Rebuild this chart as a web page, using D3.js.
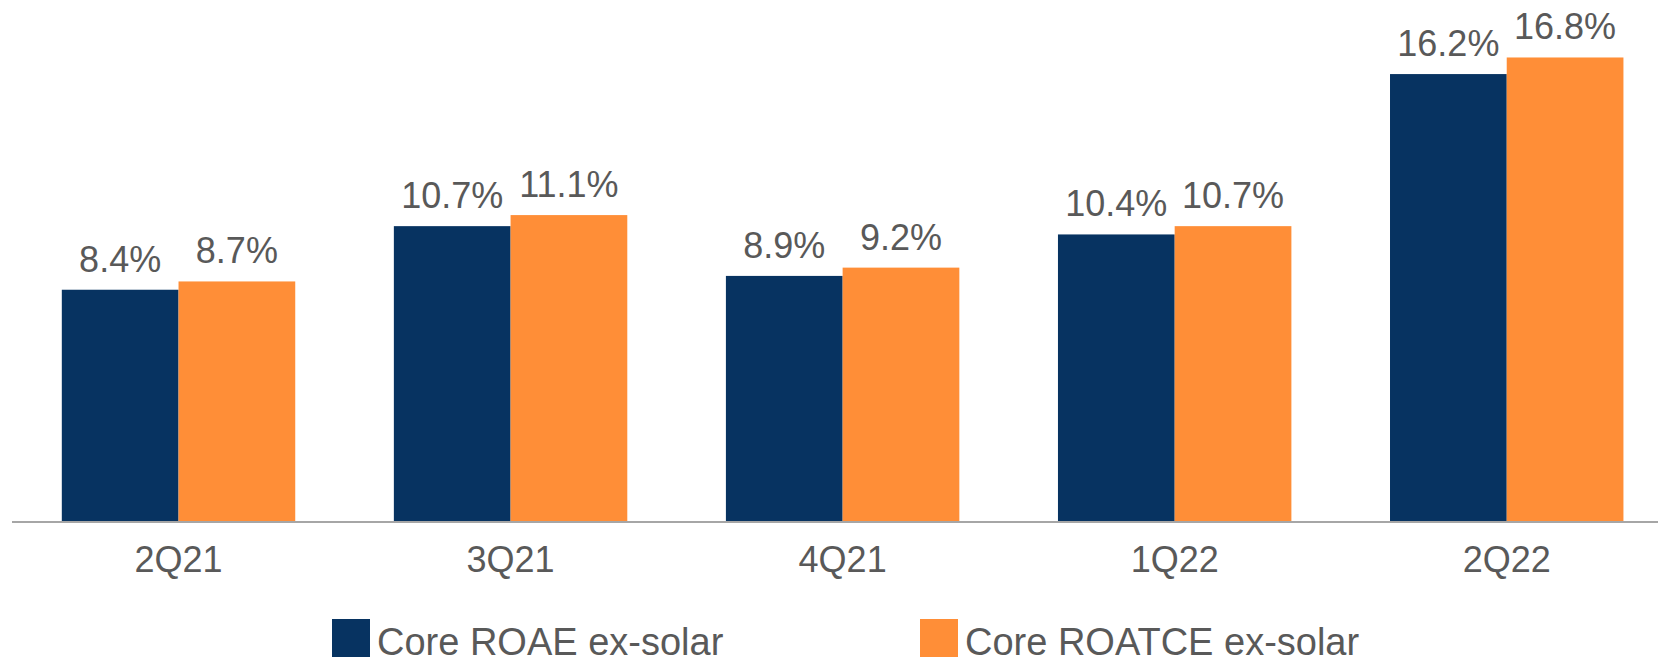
<!DOCTYPE html>
<meta charset="utf-8">
<head>
    <title>Core ROAE / ROATCE</title>
</head>
<style>
body { margin: 0; background: #fff; }
svg { display: block; }
.label, .axis text, .legend text {
  font-family: "Liberation Sans", Arial, sans-serif;
  fill: #595959;
}
</style>
<body>
<script src="https://cdn.jsdelivr.net/npm/d3@7"></script>
<script>

// data
var quarters = ["2Q21", "3Q21", "4Q21", "1Q22", "2Q22"];
var roae     = [8.4, 10.7, 8.9, 10.4, 16.2];
var roatce   = [8.7, 11.1, 9.2, 10.7, 16.8];
var seriesNames = ["Core ROAE ex-solar", "Core ROATCE ex-solar"];
var colors = ["#073361", "#FF8E37"];

var width = 1658, height = 658;
var baseY = 522;

var svg = d3.select("body").append("svg")
    .attr("width", width)
    .attr("height", height);

var x = d3.scaleBand()
    .domain(quarters)
    .range([12, 12 + 5 * 332.25])
    .paddingInner(0.297)
    .paddingOuter(0.15);

var x1 = d3.scaleBand()
    .domain([0, 1])
    .range([0, x.bandwidth()]);

var y = d3.scaleLinear()
    .domain([0, 18])
    .range([baseY, baseY - 27.65 * 18]);

var rows = quarters.map(function(q, i) {
  return {q: q, vals: [roae[i], roatce[i]]};
});

var groups = svg.selectAll(".group")
    .data(rows)
  .enter().append("g")
    .attr("class", "group")
    .attr("transform", function(d) { return "translate(" + x(d.q) + ",0)"; });

groups.selectAll("rect")
    .data(function(d) { return d.vals; })
  .enter().append("rect")
    .attr("x", function(d, i) { return x1(i); })
    .attr("width", x1.bandwidth())
    .attr("y", function(d) { return y(d); })
    .attr("height", function(d) { return y(0) - y(d); })
    .style("fill", function(d, i) { return colors[i]; });

groups.selectAll(".label")
    .data(function(d) { return d.vals; })
  .enter().append("text")
    .attr("class", "label")
    .attr("x", function(d, i) { return x1(i) + x1.bandwidth() / 2; })
    .attr("y", function(d) { return y(d) - 18; })
    .attr("text-anchor", "middle")
    .style("font-size", "36px")
    .text(function(d) { return d.toFixed(1) + "%"; });

// x axis
var axis = svg.append("g")
    .attr("class", "axis")
    .attr("transform", "translate(0," + baseY + ")")
    .call(d3.axisBottom(x).tickSize(0).tickPadding(24));

axis.select(".domain")
    .attr("d", "M12,0H" + width)
    .style("stroke", "#A6A6A6")
    .style("stroke-width", 2);

axis.selectAll("text")
    .style("font-size", "36px")
    .attr("dy", "0.71em");

// legend
var legendX = [332, 920];
var legend = svg.selectAll(".legend")
    .data(seriesNames)
  .enter().append("g")
    .attr("class", "legend")
    .attr("transform", function(d, i) { return "translate(" + legendX[i] + ",619)"; });

legend.append("rect")
    .attr("width", 38)
    .attr("height", 38)
    .style("fill", function(d, i) { return colors[i]; });

legend.append("text")
    .attr("x", 45)
    .attr("y", 36)
    .style("font-size", "38px")
    .text(function(d) { return d; });

</script>
</body>
